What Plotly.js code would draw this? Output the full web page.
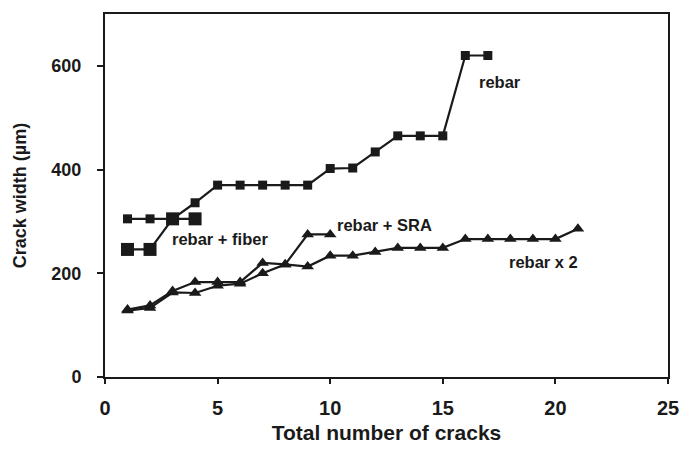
<!DOCTYPE html>
<html>
<head>
<meta charset="utf-8">
<script src="https://cdn.plot.ly/plotly-3.0.1.min.js"></script>
<style>html,body{margin:0;padding:0;background:#fff;}#chart{width:685px;height:452px;}</style>
</head>
<body>
<div id="chart"></div>
<script>
const rebarX = [1,2,3,4,5,6,7,8,9,10,11,12,13,14,15,16,17];
const rebarY = [305,305,305,336,370,370,370,370,370,402,403,434,465,465,465,620,620];
const fiberX = [1,2,3,4];
const fiberY = [246,246,305,305];
const sraX = [1,2,3,4,5,6,7,8,9,10];
const sraY = [130,138,166,183,183,183,220,217,275,275];
const x2X = [1,2,3,4,5,6,7,8,9,10,11,12,13,14,15,16,17,18,19,20,21];
const x2Y = [128,133,163,162,176,180,200,217,213,234,234,241,249,249,249,266,266,266,266,266,286];
const xTicks = [0,5,10,15,20,25];
const yTicks = [0,200,400,600];

const lineStyle = {color:'#1a1a1a', width:2.2};
const traces = [
  {x:rebarX, y:rebarY, mode:'lines+markers', line:lineStyle, marker:{symbol:'square', size:9, color:'#1a1a1a'}, name:'rebar'},
  {x:fiberX, y:fiberY, mode:'lines+markers', line:lineStyle, marker:{symbol:'square', size:13, color:'#1a1a1a'}, name:'rebar + fiber'},
  {x:x2X, y:x2Y, mode:'lines+markers', line:lineStyle, marker:{symbol:'triangle-up', size:11, color:'#1a1a1a'}, name:'rebar x 2'},
  {x:sraX, y:sraY, mode:'lines+markers', line:lineStyle, marker:{symbol:'triangle-up', size:11, color:'#1a1a1a'}, name:'rebar + SRA'}
];
const annFont = {family:'Liberation Sans, Arial, sans-serif', size:16.5, color:'#1a1a1a'};
const layout = {
  width:685, height:452,
  margin:{l:105, r:17, t:14, b:75},
  paper_bgcolor:'#fff', plot_bgcolor:'#fff',
  showlegend:false,
  font:{family:'Liberation Sans, Arial, sans-serif', color:'#1a1a1a'},
  xaxis:{range:[0,25], tickvals:xTicks, ticktext:xTicks.map(String), ticks:'outside', ticklen:5, tickwidth:2, tickcolor:'#1a1a1a',
    showline:true, linecolor:'#1a1a1a', linewidth:2, mirror:true, showgrid:false, zeroline:false,
    ticklabelstandoff:7,
    tickfont:{size:20, weight:'bold'},
    title:{text:'<b>Total number of cracks</b>', font:{size:21}, standoff:7}},
  yaxis:{range:[0,700], tickvals:yTicks, ticktext:yTicks.map(String), ticks:'outside', ticklen:6, tickwidth:2, tickcolor:'#1a1a1a',
    showline:true, linecolor:'#1a1a1a', linewidth:2, mirror:true, showgrid:false, zeroline:false,
    ticklabelstandoff:12,
    tickfont:{size:18, weight:'bold'},
    title:{text:'<b>Crack width (µm)</b>', font:{size:18}, standoff:20}},
  annotations:[
    {x:16.5, y:569, xref:'x', yref:'y', text:'<b>rebar</b>', showarrow:false, xanchor:'left', font:annFont},
    {x:2.9, y:267, xref:'x', yref:'y', text:'<b>rebar + fiber</b>', showarrow:false, xanchor:'left', font:annFont},
    {x:10.2, y:293, xref:'x', yref:'y', text:'<b>rebar + SRA</b>', showarrow:false, xanchor:'left', font:annFont},
    {x:17.85, y:222, xref:'x', yref:'y', text:'<b>rebar x 2</b>', showarrow:false, xanchor:'left', font:annFont}
  ]
};
Plotly.newPlot('chart', traces, layout, {displayModeBar:false, staticPlot:true});
</script>
</body>
</html>
